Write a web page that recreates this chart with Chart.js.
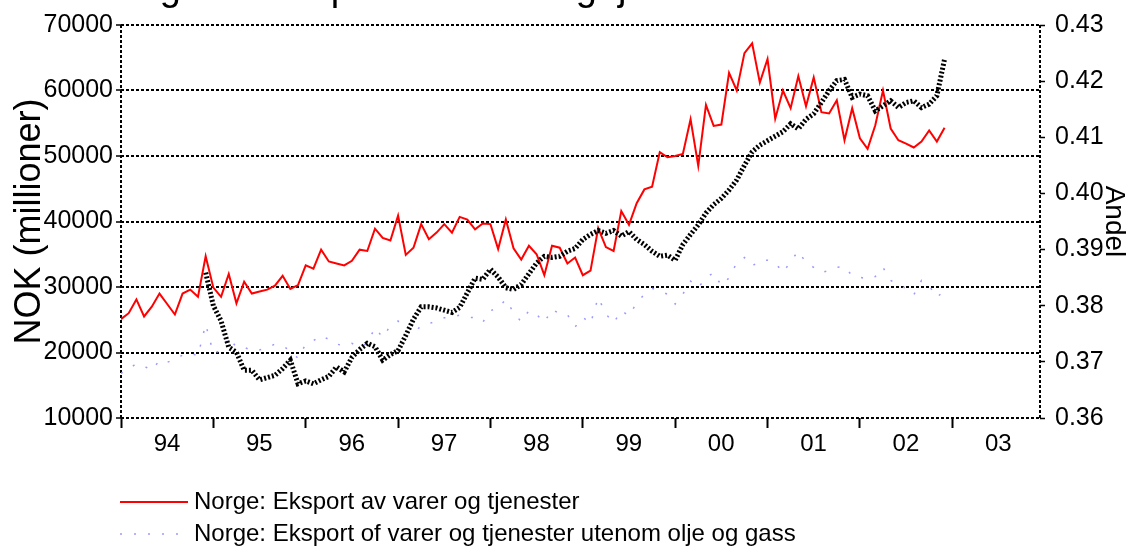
<!DOCTYPE html>
<html>
<head>
<meta charset="utf-8">
<style>
  html, body { margin: 0; padding: 0; background: #fff; overflow: hidden; }
  #wrap { width: 1132px; height: 554px; }
</style>
<script src="https://cdn.jsdelivr.net/npm/chart.js@4.4.1/dist/chart.umd.min.js"></script>
</head>
<body>
<div id="wrap"><canvas id="chart" width="1132" height="554"></canvas></div>
<script>
/* Norge: eksport av varer og tjenester, månedstall 1994-2002 */
(function () {
  'use strict';

  var FONT = "'Liberation Sans', Arial, sans-serif";
  var INK = '#000000', RED = '#FF0000', BLUE = '#9A9AFF';

  var TITLE = 'Figur 1. Eksport av varer og tjenester';
  var YEAR_LABELS = ['94', '95', '96', '97', '98', '99', '00', '01', '02', '03'];
  var YEAR_STARTS = [0, 12, 24, 36, 48, 60, 72, 84, 96, 108];   // month index of January
  var LEFT_TICKS = [10000, 20000, 30000, 40000, 50000, 60000, 70000];
  var RIGHT_TICKS = [0.36, 0.37, 0.38, 0.39, 0.40, 0.41, 0.42, 0.43];

  // NOK millioner, jan 1994 - des 2002
  var EXPORT_TOTAL = [
    25100, 26000, 28100, 25500, 27000, 29000, 27400, 25800, 29000, 29600, 28500, 34700,
    29900, 28500, 32000, 27500, 30800, 29000, 29300, 29600, 30200, 31700, 29700, 30300,
    33300, 32800, 35700, 33900, 33600, 33300, 34000, 35700, 35500, 38900, 37500, 37100,
    40900, 34900, 36000, 39600, 37300, 38300, 39600, 38300, 40700, 40300, 38800, 39700,
    39600, 35800, 40300, 35900, 34200, 36300, 35000, 31800, 36300, 36000, 33600, 34500,
    31800, 32500, 39000, 36100, 35500, 41600, 39500, 42800, 44900, 45300, 50600, 49800,
    50000, 50300, 55600, 48500, 57800, 54600, 54800, 62700, 60000, 65700, 67200, 61200,
    64800, 55700, 60000, 57300, 62200, 57600, 62000, 56700, 56500, 58500, 52400, 57300,
    52700, 51100, 54700, 60000, 54200, 52400, 51900, 51300, 52200, 53900, 52200, 54300
  ];

  var EXPORT_NON_OIL = [
    16800, 17500, 18300, 17900, 17300, 18800, 18500, 19000, 19600, 19900, 19500, 24300,
    19900, 20300, 22300, 20800, 20800, 20300, 20400, 20700, 21300, 21000, 20300, 19100,
    21300, 21800, 22600, 22000, 21300, 21000, 21400, 20800, 21400, 23800, 22300, 24100,
    24800, 23300, 22900, 24100, 24400, 24800, 25300, 25400, 25700, 25400, 25300, 24600,
    26400, 26800, 28100, 26100, 24700, 26400, 25800, 24600, 26600, 25900, 25800, 23900,
    25400, 24400, 28400, 25900, 24500, 26400, 25600, 27600, 28900, 29800, 29400, 28900,
    27400, 28900, 30900, 29900, 31400, 32200, 30200, 31400, 33700, 34500, 33200, 34000,
    34100, 33700, 32200, 33900, 35500, 33700, 33000, 32200, 32500, 33000, 33100, 31700,
    31500, 31200, 31600, 33000, 31000, 30300, 29800, 28800, 31000, 30200, 28400, 29500
  ];

  // andel (høyre akse), starter des 1994
  var SHARE = [
    null, null, null, null, null, null, null, null, null, null, null, 0.3859,
    0.3800, 0.3773, 0.3726, 0.3717, 0.3685, 0.3685, 0.3668, 0.3672, 0.3676, 0.3688, 0.3703, 0.3661,
    0.3666, 0.3661, 0.3668, 0.3674, 0.3691, 0.3682, 0.3708, 0.3722, 0.3733, 0.3727, 0.3703, 0.3713,
    0.3720, 0.3747, 0.3776, 0.3798, 0.3798, 0.3796, 0.3792, 0.3788, 0.3797, 0.3823, 0.3849, 0.3847,
    0.3865, 0.3851, 0.3832, 0.3829, 0.3838, 0.3857, 0.3876, 0.3888, 0.3886, 0.3888, 0.3897, 0.3902,
    0.3918, 0.3927, 0.3934, 0.3929, 0.3934, 0.3924, 0.3932, 0.3918, 0.3909, 0.3897, 0.3888, 0.3890,
    0.3881, 0.3909, 0.3927, 0.3944, 0.3965, 0.3980, 0.3991, 0.4006, 0.4024, 0.4050, 0.4074, 0.4086,
    0.4094, 0.4102, 0.4110, 0.4124, 0.4115, 0.4132, 0.4142, 0.4162, 0.4183, 0.4201, 0.4203, 0.4171,
    0.4177, 0.4174, 0.4147, 0.4156, 0.4165, 0.4153, 0.4162, 0.4165, 0.4153, 0.4159, 0.4174, 0.4239
  ];

  function pts(arr) {
    return arr.map(function (v, i) { return { x: i, y: v }; });
  }
  function fixTicks(list) {
    return function (scale) { scale.ticks = list.map(function (v) { return { value: v }; }); };
  }

  /* dashed left/right frame */
  var framePlugin = {
    id: 'frame',
    beforeDatasetsDraw: function (chart) {
      var a = chart.chartArea, c = chart.ctx;
      c.save();
      c.strokeStyle = INK; c.lineWidth = 2; c.setLineDash([3, 2]);
      c.beginPath();
      c.moveTo(a.left, a.top); c.lineTo(a.left, a.bottom);
      c.moveTo(a.right, a.top); c.lineTo(a.right, a.bottom);
      c.stroke();
      c.restore();
    }
  };

  /* title (clipped at the top) + two-row legend under the axis */
  var textPlugin = {
    id: 'texts',
    afterDraw: function (chart) {
      var c = chart.ctx;
      c.save();
      c.fillStyle = INK;
      c.font = '38px ' + FONT;
      c.textAlign = 'left'; c.textBaseline = 'alphabetic';
      c.fillText(TITLE, 128, 0);

      c.font = '24px ' + FONT;
      c.textBaseline = 'middle';
      [0, 1].forEach(function (idx, k) {
        var ds = chart.data.datasets[idx], y = 502 + k * 32;
        c.strokeStyle = ds.borderColor; c.lineWidth = ds.borderWidth;
        c.setLineDash(ds.borderDash || []);
        c.beginPath(); c.moveTo(120, y); c.lineTo(188, y); c.stroke();
        c.fillText(ds.label, 194, y);
      });
      c.restore();
    }
  };

  new Chart(document.getElementById('chart'), {
    type: 'line',
    data: {
      datasets: [
        { label: 'Norge: Eksport av varer og tjenester', data: pts(EXPORT_TOTAL),
          borderColor: RED, borderWidth: 2, yAxisID: 'y', order: 1 },
        { label: 'Norge: Eksport of varer og tjenester utenom olje og gass', data: pts(EXPORT_NON_OIL),
          borderColor: BLUE, borderWidth: 1.5, borderDash: [2, 12], yAxisID: 'y', order: 2 },
        { label: 'Andel', data: pts(SHARE),
          borderColor: INK, borderWidth: 5, borderDash: [2, 2], yAxisID: 'y1', order: 0 }
      ]
    },
    options: {
      responsive: false, animation: false,
      layout: { padding: { top: 22, left: 0, right: 0, bottom: 0 } },
      elements: { point: { radius: 0 }, line: { tension: 0, fill: false } },
      plugins: { legend: { display: false }, tooltip: { enabled: false }, title: { display: false } },
      scales: {
        x: {
          type: 'linear', min: 0, max: 119.4,
          afterBuildTicks: fixTicks(YEAR_STARTS),
          afterFit: function (s) { s.height = 136; },
          grid: { display: true, drawOnChartArea: false, drawTicks: true, tickLength: 10,
                  tickColor: INK, tickWidth: 2, color: INK },
          border: { display: false },
          ticks: { font: { family: FONT, size: 24 }, color: INK, padding: 2, maxRotation: 0,
                   autoSkip: false, labelOffset: 46,
                   callback: function (v, i) { return YEAR_LABELS[i]; } }
        },
        y: {
          position: 'left', min: 10000, max: 70000,
          afterBuildTicks: fixTicks(LEFT_TICKS),
          afterFit: function (s) { s.width = 121; },
          grid: { color: INK, lineWidth: 2, tickLength: 5, tickColor: INK, tickWidth: 1.5, tickBorderDash: [] },
          border: { display: false, dash: [3, 2] },
          ticks: { font: { family: FONT, size: 25 }, color: INK, padding: 3,
                   callback: function (v) { return String(v); } },
          title: { display: true, text: 'NOK (millioner)', color: INK,
                   font: { family: FONT, size: 36 }, padding: { top: 8, bottom: 0 } }
        },
        y1: {
          position: 'right', min: 0.36, max: 0.43,
          afterBuildTicks: fixTicks(RIGHT_TICKS),
          afterFit: function (s) { s.width = 92; },
          grid: { drawOnChartArea: false, tickLength: 5, tickColor: INK, tickWidth: 1.5, color: INK },
          border: { display: false },
          ticks: { font: { family: FONT, size: 25 }, color: INK, padding: 10,
                   callback: function (v) { return v.toFixed(2); } },
          title: { display: true, text: 'Andel', color: INK,
                   font: { family: FONT, size: 28 }, padding: { top: 1, bottom: 0 } }
        }
      }
    },
    plugins: [framePlugin, textPlugin]
  });
})();
</script>
</body>
</html>
